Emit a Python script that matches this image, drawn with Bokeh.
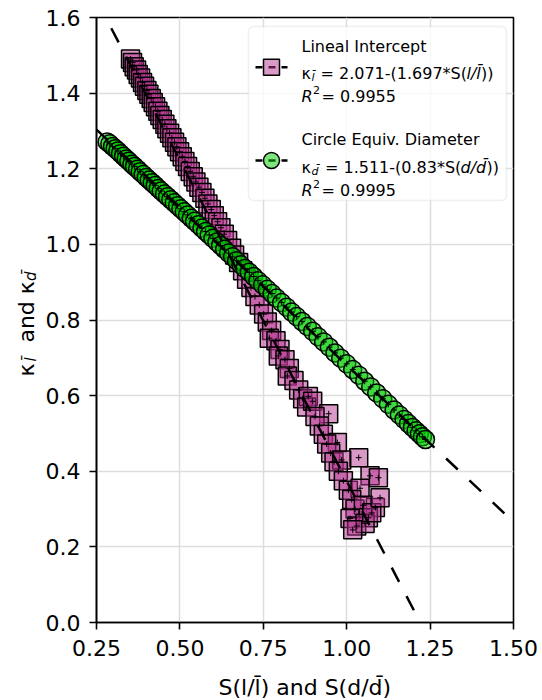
from bokeh.plotting import figure
from bokeh.models import Range1d, FixedTicker, PrintfTickFormatter, Label, BoxAnnotation
from bokeh.embed import file_html
from bokeh.resources import INLINE

# ---------------- data ----------------
sq_x = [0.352, 0.358, 0.363, 0.370, 0.375, 0.382, 0.388, 0.394, 0.401, 0.407,
        0.414, 0.420, 0.427, 0.434, 0.440, 0.447, 0.455, 0.461, 0.469, 0.476,
        0.484, 0.491, 0.499, 0.507, 0.515, 0.523, 0.531, 0.540, 0.548, 0.557,
        0.566, 0.575, 0.584, 0.594, 0.603, 0.613, 0.623, 0.633, 0.643, 0.655,
        0.664, 0.676, 0.688, 0.700, 0.713, 0.725, 0.738, 0.751,
        0.762, 0.775, 0.768, 0.788, 0.800, 0.795, 0.815, 0.828, 0.822, 0.842,
        0.856, 0.868, 0.885, 0.880, 0.898, 0.946, 0.905, 0.918, 0.930, 0.972,
        0.940, 0.952, 1.036, 0.962, 0.985, 0.975, 1.070, 1.095, 0.990, 1.005,
        1.040, 1.015, 1.086, 1.025, 1.050, 1.065, 1.010, 1.030, 1.055, 1.018,
        1.075, 1.100]
sq_y = [1.490, 1.481, 1.470, 1.461, 1.449, 1.440, 1.428, 1.418, 1.407, 1.397,
        1.386, 1.375, 1.364, 1.352, 1.341, 1.330, 1.318, 1.306, 1.294, 1.282,
        1.270, 1.258, 1.245, 1.232, 1.219, 1.206, 1.193, 1.179, 1.165, 1.151,
        1.137, 1.122, 1.107, 1.092, 1.076, 1.060, 1.044, 1.027, 1.010, 0.990,
        0.972, 0.952, 0.930, 0.908, 0.886, 0.862, 0.840, 0.816,
        0.795, 0.772, 0.752, 0.745, 0.722, 0.705, 0.695, 0.672, 0.652, 0.640,
        0.615, 0.592, 0.598, 0.570, 0.585, 0.552, 0.545, 0.520, 0.498, 0.476,
        0.472, 0.448, 0.436, 0.425, 0.430, 0.400, 0.388, 0.383, 0.375, 0.350,
        0.355, 0.325, 0.304, 0.300, 0.310, 0.277, 0.275, 0.255, 0.262, 0.245,
        0.290, 0.330]

ci_x = [0.282, 0.290, 0.298, 0.306, 0.314, 0.322, 0.331, 0.339, 0.347, 0.356,
        0.364, 0.373, 0.381, 0.390, 0.399, 0.408, 0.417, 0.426, 0.435, 0.444,
        0.454, 0.463, 0.473, 0.483, 0.493, 0.503, 0.513, 0.523, 0.534, 0.544,
        0.555, 0.566, 0.577, 0.588, 0.599, 0.611, 0.622, 0.634, 0.646, 0.658,
        0.670, 0.683, 0.695, 0.708, 0.721, 0.734, 0.748, 0.762, 0.776, 0.790,
        0.805, 0.820, 0.835, 0.850, 0.866, 0.882, 0.898, 0.914, 0.931, 0.948,
        0.965, 0.982, 1.000, 1.018, 1.036, 1.054, 1.072, 1.090, 1.108, 1.125,
        1.142, 1.158, 1.172, 1.185, 1.197, 1.208, 1.218, 1.227, 1.236]
ci_y = [1.271, 1.266, 1.259, 1.253, 1.247, 1.240, 1.233, 1.226, 1.220, 1.212,
        1.206, 1.199, 1.192, 1.185, 1.177, 1.170, 1.163, 1.156, 1.148, 1.141,
        1.133, 1.126, 1.118, 1.110, 1.102, 1.094, 1.086, 1.078, 1.069, 1.061,
        1.052, 1.043, 1.034, 1.025, 1.016, 1.006, 0.997, 0.987, 0.977, 0.967,
        0.957, 0.946, 0.936, 0.926, 0.915, 0.904, 0.893, 0.881, 0.870, 0.858,
        0.846, 0.834, 0.821, 0.809, 0.796, 0.783, 0.770, 0.756, 0.742, 0.728,
        0.713, 0.699, 0.684, 0.669, 0.654, 0.638, 0.623, 0.607, 0.592, 0.577,
        0.562, 0.549, 0.537, 0.526, 0.516, 0.507, 0.499, 0.491, 0.484]

fit_l_intercept, fit_l_slope = 2.071, 1.697
fit_d_intercept, fit_d_slope = 1.511, 0.83
fit_x = [0.25, 1.5]

x_ticks = [0.25, 0.5, 0.75, 1.0, 1.25, 1.5]
y_ticks = [0.0, 0.2, 0.4, 0.6, 0.8, 1.0, 1.2, 1.4, 1.6]

legend_title_l = "Lineal Intercept"
legend_eq_l = "= 2.071-(1.697*S("
legend_r2_l = "= 0.9955"
legend_title_d = "Circle Equiv. Diameter"
legend_eq_d = "= 1.511-(0.83*S("
legend_r2_d = "= 0.9995"
x_title = "S(l/l\u0304) and S(d/d\u0304)"
NB = "\u00a0"
y_title_main = "κ" + NB * 3 + "and" + NB + "κ"
y_title_subs = "l\u0304" + NB * 16 + "d\u0304"

# ---------------- styling ----------------
FONT = "DejaVu Sans"
SQ_COLOR = "#b5338f"
CI_COLOR = "#00cc00"
XR = (0.25, 1.5)
YR = (0.0, 1.6)
FW, FH = 417, 605
ML, MR, MT, MB = 96, 29, 17, 78
PAGE_L, PAGE_T = ML, MT


def dx(px):
    return XR[0] + (px - PAGE_L) * (XR[1] - XR[0]) / FW


def dy(py):
    return YR[1] - (py - PAGE_T) * (YR[1] - YR[0]) / FH


p = figure(frame_width=FW, frame_height=FH,
           min_border_left=ML, min_border_right=MR,
           min_border_top=MT, min_border_bottom=MB,
           x_range=Range1d(*XR), y_range=Range1d(*YR),
           output_backend="svg", toolbar_location=None)

p.background_fill_color = "white"
p.border_fill_color = "white"
p.outline_line_color = "black"
p.outline_line_width = 1.6
p.outline_line_alpha = 1.0

p.xaxis.ticker = FixedTicker(ticks=x_ticks, minor_ticks=[])
p.yaxis.ticker = FixedTicker(ticks=y_ticks, minor_ticks=[])
p.xaxis.formatter = PrintfTickFormatter(format="%.2f")
p.yaxis.formatter = PrintfTickFormatter(format="%.1f")
for ax in (p.xaxis[0], p.yaxis[0]):
    ax.axis_line_color = "black"
    ax.axis_line_width = 1.6
    ax.major_tick_line_color = "black"
    ax.major_tick_line_width = 1.6
    ax.major_tick_out = 7
    ax.major_tick_in = 0
    ax.minor_tick_out = 0
    ax.minor_tick_in = 0
    ax.major_label_text_font = FONT
    ax.major_label_text_font_size = "22px"
    ax.major_label_text_color = "black"
p.xaxis.major_label_standoff = 10
p.yaxis.major_label_standoff = 9

p.xgrid.grid_line_color = "#dddddd"
p.ygrid.grid_line_color = "#dddddd"
p.xgrid.grid_line_width = 1.5
p.ygrid.grid_line_width = 1.5

# ---------------- data marks ----------------
p.scatter(sq_x, sq_y, marker="square", size=18, fill_color=SQ_COLOR, fill_alpha=0.5,
          line_color="black", line_width=1.5)
p.scatter(sq_x, sq_y, marker="cross", size=6, line_color="black", line_width=1)
p.scatter(ci_x, ci_y, marker="circle", size=18, fill_color=CI_COLOR, fill_alpha=0.5,
          line_color="black", line_width=1.5)
p.scatter(ci_x, ci_y, marker="cross", size=6, line_color="black", line_width=1)

p.line(fit_x, [fit_l_intercept - fit_l_slope * v for v in fit_x],
       line_color="black", line_width=2.5, line_dash="16 16")
p.line(fit_x, [fit_d_intercept - fit_d_slope * v for v in fit_x],
       line_color="black", line_width=2.5, line_dash="16 16")

# ---------------- legend ----------------
p.add_layout(BoxAnnotation(left=dx(248), right=dx(506), top=dy(26), bottom=dy(200),
                           fill_color="white", fill_alpha=0.8,
                           line_color="#cccccc", line_width=1.5, border_radius=5))

for hy, marker, color in ((66.7, "square", SQ_COLOR), (160, "circle", CI_COLOR)):
    p.line([dx(255), dx(287)], [dy(hy), dy(hy)], line_color="black", line_width=2.5,
           line_dash="7 6", level="overlay")
    p.scatter([dx(271)], [dy(hy)], marker=marker, size=16, fill_color=color,
              fill_alpha=0.5, line_color="black", line_width=1.5, level="overlay")


def lab(text, px, py, size, style="normal", angle=0, place=None):
    lb = Label(x=dx(px), y=dy(py), text=text, text_font=FONT,
               text_font_size=size, text_font_style=style,
               text_color="black", text_align="left",
               text_baseline="alphabetic", angle=angle, angle_units="deg")
    if place:
        p.add_layout(lb, place)
    else:
        p.add_layout(lb)


LF = "16px"
SF = "11px"
# entry 1
lab(legend_title_l, 301, 45.8, LF)
lab("κ", 301, 72.7, LF)
lab("l\u0304", 311, 76.5, SF, "italic")
lab(legend_eq_l, 320, 72.7, LF)
lab("l/l\u0304", 466, 72.7, LF, "italic")
lab("))", 480.5, 72.7, LF)
lab("R", 301, 96, LF, "italic")
lab("2", 312.5, 89.5, SF)
lab(legend_r2_l, 321, 96, LF)
# entry 2
lab(legend_title_d, 301, 139.3, LF)
lab("κ", 301, 166.7, LF)
lab("d\u0304", 311, 170.5, SF, "italic")
lab(legend_eq_d, 324.5, 166.7, LF)
lab("d/d\u0304", 460, 166.7, LF, "italic")
lab("))", 486, 166.7, LF)
lab("R", 301, 189.5, LF, "italic")
lab("2", 312.5, 183, SF)
lab(legend_r2_d, 321, 189.5, LF)

# ---------------- axis titles (in side panels, so not clipped) ----------------
lab(x_title, 218, 687, "22px", place="below")
lab(y_title_main, 25.5, 376, "22px", angle=90, place="left")
lab(y_title_subs, 30.5, 361, "15px", "italic", angle=90, place="right")

open("out.html", "w").write(file_html(p, INLINE))
